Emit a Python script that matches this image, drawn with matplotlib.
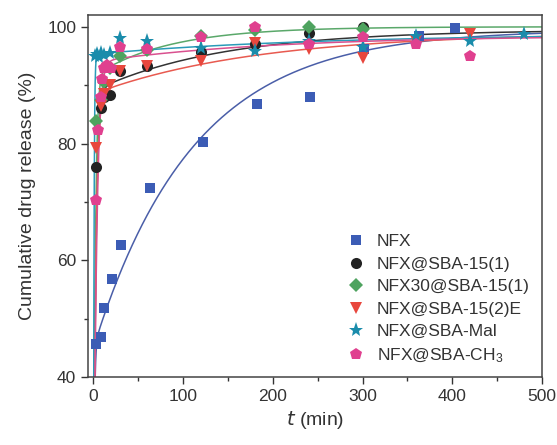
import numpy as np
import matplotlib
matplotlib.use('Agg')
import matplotlib.pyplot as plt
from matplotlib.ticker import MultipleLocator

plt.rcParams['font.family'] = ['Liberation Sans', 'DejaVu Sans']
plt.rcParams['mathtext.default'] = 'regular'

# measured release points
t_nfx = [3, 8, 12, 21, 31, 63, 122, 182, 242, 302, 363, 403]
y_nfx = [45.6, 46.8, 51.8, 56.7, 62.6, 72.3, 80.2, 86.7, 88.0, 96.2, 98.5, 99.8]

t_sba1 = [3, 8, 12, 18, 30, 60, 120, 180, 240, 300]
y_sba1 = [76.0, 86.0, 88.0, 88.3, 92.5, 93.3, 95.6, 97.0, 99.0, 99.9]

t_nfx30 = [3, 8, 12, 18, 30, 60, 120, 180, 240, 300]
y_nfx30 = [83.8, 87.5, 90.5, 93.0, 95.0, 96.0, 98.5, 99.5, 99.9, 99.6]

t_sba2e = [3, 8, 12, 18, 30, 60, 120, 180, 240, 300, 360, 420]
y_sba2e = [79.3, 86.5, 88.5, 90.0, 92.5, 93.3, 94.2, 97.3, 96.2, 94.7, 97.5, 98.8]

t_mal = [2, 4, 6, 8, 12, 18, 30, 60, 120, 180, 240, 300, 360, 420, 480]
y_mal = [95.0, 95.3, 94.8, 95.5, 95.2, 95.5, 98.0, 97.5, 96.3, 95.9, 97.5, 96.5, 98.5, 97.6, 98.8]

t_ch3 = [3, 5, 8, 10, 12, 15, 20, 30, 60, 120, 180, 240, 300, 360, 420]
y_ch3 = [70.3, 82.3, 88.0, 91.0, 93.0, 93.5, 93.0, 96.5, 96.2, 98.2, 99.9, 97.0, 98.2, 97.0, 95.0]

labels = ['NFX', 'NFX@SBA-15(1)', 'NFX30@SBA-15(1)', 'NFX@SBA-15(2)E',
          'NFX@SBA-Mal', 'NFX@SBA-CH$_3$']

# two-phase fit parameters: burst A, k1, slow B, k2
fit_params = [
    (45.0, 1.0, 54.5, 0.009),
    (89.0, 0.4, 10.5, 0.007),
    (91.5, 0.5, 8.5, 0.012),
    (88.5, 0.4, 10.5, 0.0055),
    (95.3, 1.5, 3.5, 0.004),
    (94.0, 0.3, 4.5, 0.005),
]

colors = ['#3c5cb5', '#222222', '#4ea35f', '#e8473d', '#1a8cab', '#e0408f']
line_colors = ['#4a5ea8', '#333333', '#5aa86a', '#e85a50', '#2a9bb8', '#d9508f']
markers = ['s', 'o', 'D', 'v', '*', 'p']
msizes = [7, 8, 7, 8, 11, 9]

series = [(t_nfx, y_nfx), (t_sba1, y_sba1), (t_nfx30, y_nfx30),
          (t_sba2e, y_sba2e), (t_mal, y_mal), (t_ch3, y_ch3)]

fig = plt.figure(figsize=(5.57, 4.45), dpi=100)
ax = fig.add_axes([0.158, 0.153, 0.815, 0.813])

tt = np.linspace(0, 500, 1000)
for (t, y), (A, k1, B, k2), c, lc, m, ms, lab in zip(series, fit_params, colors,
                                                    line_colors, markers, msizes, labels):
    fit = A * (1 - np.exp(-k1 * tt)) + B * (1 - np.exp(-k2 * tt))
    ax.plot(tt, fit, color=lc, lw=1.1, zorder=2)
    ax.plot(t, y, linestyle='none', marker=m, markersize=ms, color=c,
            markeredgewidth=0, label=lab, zorder=3)

ax.set_xlim(-6, 500)
ax.set_ylim(40, 102)
ax.xaxis.set_major_locator(MultipleLocator(100))
ax.xaxis.set_minor_locator(MultipleLocator(50))
ax.yaxis.set_major_locator(MultipleLocator(20))
ax.yaxis.set_minor_locator(MultipleLocator(10))
ax.tick_params(which='major', direction='out', length=5, width=1,
               labelsize=12.5, colors='#333333')
ax.tick_params(which='minor', direction='out', length=3, width=1, colors='#333333')
for s in ax.spines.values():
    s.set_color('#444444')
    s.set_linewidth(1.1)

ax.set_xlabel('$\\mathit{t}$ (min)', fontsize=14, color='#333333', labelpad=4)
ax.set_ylabel('Cumulative drug release (%)', fontsize=14, color='#333333', labelpad=8)

leg = ax.legend(loc='lower right', bbox_to_anchor=(1.0, 0.0), frameon=False,
                fontsize=12.5, handletextpad=0.6, labelspacing=0.42,
                handlelength=1.2, borderaxespad=0.3)
for txt in leg.get_texts():
    txt.set_color('#333333')

fig.savefig('out.png', dpi=100)
